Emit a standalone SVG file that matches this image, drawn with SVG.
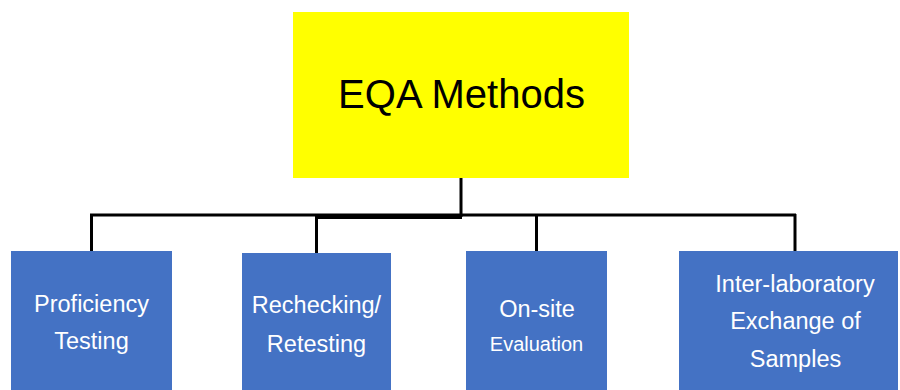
<svg xmlns="http://www.w3.org/2000/svg" width="900" height="390" viewBox="0 0 900 390">
<style>
.box{fill:#4472C4}
.lbl{font-family:"Liberation Sans",Arial,sans-serif;font-size:23.5px;fill:#FFFFFF;text-anchor:middle}
.ttl{font-family:"Liberation Sans",Arial,sans-serif;font-size:40px;fill:#000000;text-anchor:middle}
.ln{stroke:#000000;stroke-width:3;fill:none}
</style>
<rect width="900" height="390" fill="#FFFFFF"/>
<g id="connectors">
<line class="ln" x1="461" y1="178" x2="461" y2="217"/>
<line class="ln" x1="90" y1="215" x2="796" y2="215"/>
<line class="ln" x1="316" y1="217.5" x2="462" y2="217.5"/>
<line class="ln" x1="91.5" y1="214" x2="91.5" y2="251"/>
<line class="ln" x1="316.5" y1="216" x2="316.5" y2="253"/>
<line class="ln" x1="536.5" y1="214" x2="536.5" y2="251"/>
<line class="ln" x1="795" y1="214" x2="795" y2="251"/>
</g>
<g id="eqa-methods">
<rect x="293" y="12" width="336" height="166" fill="#FFFF00"/>
<text class="ttl" x="461.5" y="108">EQA Methods</text>
</g>
<g id="proficiency-testing">
<rect class="box" x="11" y="251" width="161" height="139"/>
<text class="lbl" x="91.5" y="312">Proficiency</text>
<text class="lbl" x="91.5" y="349">Testing</text>
</g>
<g id="rechecking-retesting">
<rect class="box" x="242" y="253" width="149" height="137"/>
<text class="lbl" x="316.5" y="313">Rechecking/</text>
<text class="lbl" x="316.5" y="352">Retesting</text>
</g>
<g id="on-site-evaluation">
<rect class="box" x="466" y="251" width="141" height="139"/>
<text class="lbl" x="537" y="317">On-site</text>
<text class="lbl" x="536.5" y="351" style="font-size:20px">Evaluation</text>
</g>
<g id="inter-laboratory-exchange">
<rect class="box" x="679" y="251" width="219" height="139"/>
<text class="lbl" x="795" y="292">Inter-laboratory</text>
<text class="lbl" x="795.5" y="329">Exchange of</text>
<text class="lbl" x="795.5" y="367">Samples</text>
</g>
</svg>
